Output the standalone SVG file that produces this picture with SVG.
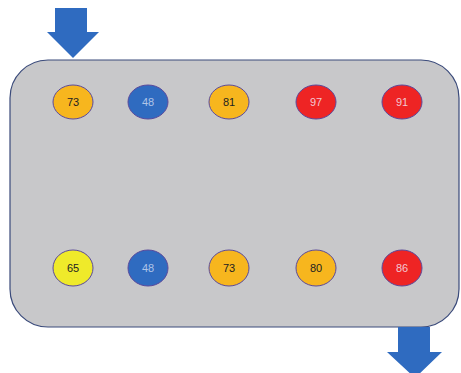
<svg xmlns="http://www.w3.org/2000/svg" width="461" height="373" viewBox="0 0 461 373">
<style>
.c{stroke:#5b4a9c;stroke-width:1}
.o{fill:#F7B61E}.b{fill:#2F6BC0}.r{fill:#EE2424}.y{fill:#EFEA2A}
.t{font-family:"Liberation Sans",Arial,sans-serif;font-size:11px;text-anchor:middle;dominant-baseline:central}
.d{fill:#222}.l{fill:#F2C8D2}.lb{fill:#AFC4E8}
.ar{fill:#2F6BC0}
</style>
<rect width="461" height="373" fill="#ffffff"/>
<g id="container"><rect x="10" y="60" width="449" height="267" rx="38" ry="38" fill="#C8C8CA" stroke="#3A4A7A" stroke-width="1.2"/></g>
<g id="connectors">
<polygon class="ar" points="55,8 87,8 87,32 99,32 73,58 47,32 55,32"/>
<polygon class="ar" points="398,327 430,327 430,352 442,352 415,378 387,352 398,352"/>
</g>
<g id="n1"><ellipse class="c o" cx="73" cy="102" rx="20" ry="17"/><text class="t d" x="73" y="102">73</text></g>
<g id="n2"><ellipse class="c b" cx="148" cy="102" rx="20" ry="17"/><text class="t lb" x="148" y="102">48</text></g>
<g id="n3"><ellipse class="c o" cx="229" cy="102" rx="20" ry="17"/><text class="t d" x="229" y="102">81</text></g>
<g id="n4"><ellipse class="c r" cx="316" cy="102" rx="20" ry="17"/><text class="t l" x="316" y="102">97</text></g>
<g id="n5"><ellipse class="c r" cx="402" cy="102" rx="20" ry="17"/><text class="t l" x="402" y="102">91</text></g>
<g id="n6"><ellipse class="c y" cx="73" cy="268" rx="20" ry="18"/><text class="t d" x="73" y="268">65</text></g>
<g id="n7"><ellipse class="c b" cx="148" cy="268" rx="20" ry="18"/><text class="t lb" x="148" y="268">48</text></g>
<g id="n8"><ellipse class="c o" cx="229" cy="268" rx="20" ry="18"/><text class="t d" x="229" y="268">73</text></g>
<g id="n9"><ellipse class="c o" cx="316" cy="268" rx="20" ry="18"/><text class="t d" x="316" y="268">80</text></g>
<g id="n10"><ellipse class="c r" cx="402" cy="268" rx="20" ry="18"/><text class="t l" x="402" y="268">86</text></g>
</svg>
